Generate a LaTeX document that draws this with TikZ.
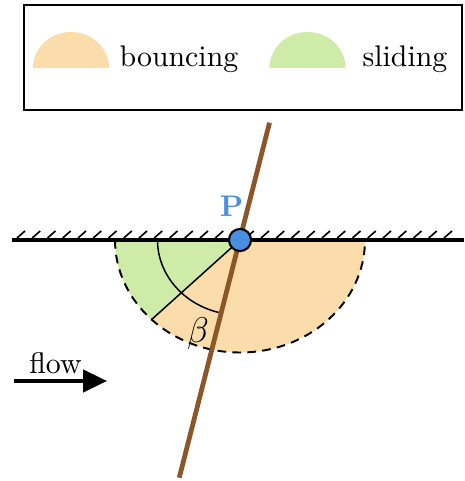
\documentclass[tikz,border=0pt]{standalone}
\usepackage{amsmath,amssymb}
\definecolor{BounceOrange}{HTML}{FADDAA}
\definecolor{SlideGreen}{HTML}{CEECA8}
\definecolor{PointBlue}{HTML}{4A90E2}
\definecolor{RodBrown}{HTML}{8B572A}
\usetikzlibrary{arrows.meta,positioning}

\begin{document}
\begin{tikzpicture}[x=8.375pt,y=8.375pt,every node/.style={font=\normalsize}]
  \useasboundingbox (-9.6,-9.64) rectangle (8.96,9.6);
  % legend
  \draw[line width=0.7pt] (-8.64,5.2) rectangle (8.88,9.4);
  \fill[BounceOrange] (-8.28,6.88) arc[start angle=180,end angle=0,x radius=1.52,y radius=1.44] -- cycle;
  \node[anchor=base] (bounce) at (-2.44,6.92) {bouncing};
  \fill[SlideGreen] (1.18,6.88) arc[start angle=180,end angle=0,x radius=1.52,y radius=1.44] -- cycle;
  \node[anchor=base] (slide) at (6.6,6.92) {sliding};
  % regions below the wall
  \fill[BounceOrange] (5,0) arc[start angle=0,end angle=-180,x radius=5,y radius=4.5] -- cycle;
  \fill[SlideGreen] (0,0) -- (-5,0) arc[start angle=180,end angle=225,x radius=5,y radius=4.5] -- cycle;
  \draw[line width=0.5pt] (0,0) -- (225:5 and 4.5);
  \draw[line width=0.65pt,dash pattern=on 2.9pt off 2.1pt] (-5,0) arc[start angle=180,end angle=360,x radius=5,y radius=4.5];
  \draw[line width=0.5pt] (-3.3,0) arc[start angle=180,end angle=255,x radius=3.3,y radius=3.0];
  \node[font=\large] (beta) at (-1.68,-3.76) {$\beta$};
  % wall
  \draw[line width=1.2pt] (-9.12,0) -- (8.96,0);
  \foreach \x in {-8.92,-8.31,...,8.6}
    \draw[line width=0.55pt] (\x,0.08) -- ++(0.32,0.28);
  % rod through P
  \coordinate (rodtop) at (1.18,4.69);
  \coordinate (rodbot) at (-2.43,-9.51);
  \draw[RodBrown,line width=1.6pt] (rodbot) -- (rodtop);
  \node[circle,draw,fill=PointBlue,line width=0.7pt,minimum size=7.4pt,inner sep=0pt] (P) at (0,0) {};
  \node[PointBlue,font=\bfseries] (Plabel) at (-0.34,1.34) {P};
  % flow
  \coordinate (flowstart) at (-9.04,-5.64);
  \coordinate (flowend) at (-5.32,-5.64);
  \draw[-{Triangle[length=8pt,width=7.4pt]},line width=1.3pt] (flowstart) -- (flowend);
  \node[anchor=base] (flowlabel) at (-7.38,-5.32) {flow};
\end{tikzpicture}
\end{document}
